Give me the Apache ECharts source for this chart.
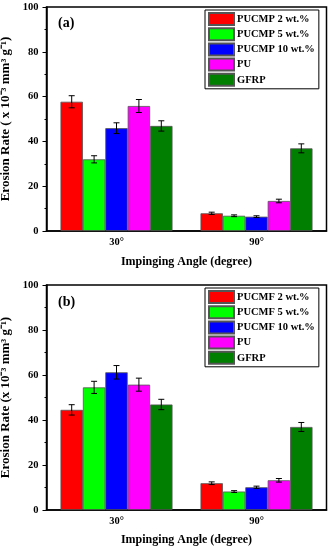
<!DOCTYPE html>
<html>
<head>
<meta charset="utf-8">
<script src="https://cdn.jsdelivr.net/npm/echarts@6/dist/echarts.min.js"></script>
<style>html,body{margin:0;padding:0;background:#fff;}#c{width:332px;height:550px;}</style>
</head>
<body>
<div id="c"></div>
<script>
var categories = ['30°', '90°'];
var namesA = ['PUCMP 2 wt.%', 'PUCMP 5 wt.%', 'PUCMP 10 wt.%', 'PU', 'GFRP'];
var namesB = ['PUCMF 2 wt.%', 'PUCMF 5 wt.%', 'PUCMF 10 wt.%', 'PU', 'GFRP'];
var colors = ['#ff0000', '#00ff00', '#0000ff', '#ff00ff', '#007f00'];
var valuesA = [[57.7, 7.9], [32.0, 6.8], [45.9, 6.4], [55.8, 13.4], [46.9, 36.9]];
var errorsA = [[2.7, 0.5], [1.6, 0.4], [2.4, 0.4], [2.9, 0.8], [2.3, 2.0]];
var valuesB = [[44.5, 11.9], [54.5, 8.2], [61.2, 10.1], [55.7, 13.2], [46.9, 36.9]];
var errorsB = [[2.3, 0.6], [2.7, 0.4], [3.0, 0.5], [2.9, 0.8], [2.3, 2.0]];
var yTicks = [0, 20, 40, 60, 80, 100];

var FONT = '"Liberation Serif", "Times New Roman", serif';
var chart = echarts.init(document.getElementById('c'), null, {renderer: 'canvas'});

function errItems(values, errors) {
  var d = [];
  for (var s = 0; s < values.length; s++)
    for (var c = 0; c < values[s].length; c++)
      d.push([c, s, values[s][c], errors[s][c]]);
  return d;
}

function renderErr(params, api) {
  var c = api.value(0), s = api.value(1), v = api.value(2), e = api.value(3);
  var band = api.size([1, 0])[0];
  var barW = band * 0.8 / 5;
  var center = api.coord([c, v]);
  var x = center[0] - band * 0.4 + barW * (s + 0.5);
  var top = api.coord([c, v + e])[1];
  var bot = api.coord([c, v - e])[1];
  var cap = 3;
  var st = {stroke: '#000', lineWidth: 1};
  return {
    type: 'group',
    children: [
      {type: 'line', shape: {x1: x, y1: top, x2: x, y2: bot}, style: st},
      {type: 'line', shape: {x1: x - cap, y1: top, x2: x + cap, y2: top}, style: st},
      {type: 'line', shape: {x1: x - cap, y1: bot, x2: x + cap, y2: bot}, style: st}
    ]
  };
}

var grids = [
  {left: 46.5, right: 5.5, top: 7, height: 224, show: true, borderColor: '#000', borderWidth: 1.5, backgroundColor: 'transparent', outerBoundsMode: 'none', containLabel: false},
  {left: 46.5, right: 5.5, top: 285, height: 225, show: true, borderColor: '#000', borderWidth: 1.5, backgroundColor: 'transparent', outerBoundsMode: 'none', containLabel: false}
];

function xAx(i) {
  return {
    type: 'category', gridIndex: i, data: categories,
    boundaryGap: true,
    axisLine: {lineStyle: {color: '#000', width: 1.5}},
    axisTick: {alignWithLabel: true, length: 3, lineStyle: {color: '#000'}},
    axisLabel: {color: '#000', fontFamily: FONT, fontWeight: 'bold', fontSize: 10.5, margin: 6},
    name: 'Impinging Angle (degree)', nameLocation: 'middle', nameGap: i === 0 ? 25 : 24,
    nameTextStyle: {color: '#000', fontFamily: FONT, fontWeight: 'bold', fontSize: 12}
  };
}
function yAx(i) {
  return {
    type: 'value', gridIndex: i, min: yTicks[0], max: yTicks[yTicks.length - 1], interval: 20,
    axisLine: {show: true, lineStyle: {color: '#000', width: 1.5}},
    axisTick: {show: true, length: 4, lineStyle: {color: '#000'}},
    minorTick: {show: true, splitNumber: 2, length: 2, lineStyle: {color: '#000'}},
    splitLine: {show: false},
    axisLabel: {color: '#000', fontFamily: FONT, fontWeight: 'bold', fontSize: 10.5, margin: 8},
    name: i === 0 ? 'Erosion Rate ( x 10⁻³ mm³ g⁻¹)' : 'Erosion Rate (x 10⁻³ mm³ g⁻¹)',
    nameLocation: 'middle', nameRotate: 90, nameGap: 27,
    nameTextStyle: {color: '#000', fontFamily: FONT, fontWeight: 'bold', fontSize: 13}
  };
}

var series = [];
function addPanel(names, values, errors, gi) {
  for (var s = 0; s < names.length; s++) {
    series.push({
      type: 'bar', name: names[s], xAxisIndex: gi, yAxisIndex: gi,
      data: values[s], barGap: '0%', barCategoryGap: '20%',
      itemStyle: {color: colors[s], borderColor: '#555', borderWidth: 0.8},
      emphasis: {disabled: true}, animation: false
    });
  }
  series.push({
    type: 'custom', xAxisIndex: gi, yAxisIndex: gi,
    data: errItems(values, errors), encode: {x: 0, y: 2},
    renderItem: renderErr, z: 10, animation: false, silent: true
  });
}
addPanel(namesA, valuesA, errorsA, 0);
addPanel(namesB, valuesB, errorsB, 1);

function legend(names, top) {
  return {
    data: names, orient: 'vertical', left: 205, top: top,
    itemWidth: 25, itemHeight: 12, itemGap: 1.2,
    padding: [2, 4, 2, 3], borderColor: '#000', borderWidth: 1,
    textStyle: {color: '#000', fontFamily: FONT, fontWeight: 'bold', fontSize: 10.5, padding: [0, 0, 0, -2]},
    selectedMode: false,
    icon: 'rect'
  };
}

chart.setOption({
  animation: false,
  backgroundColor: '#fff',
  grid: grids,
  xAxis: [xAx(0), xAx(1)],
  yAxis: [yAx(0), yAx(1)],
  legend: [legend(namesA, 10), legend(namesB, 288)],
  title: [
    {text: '(a)', left: 58, top: 16, padding: 0, textStyle: {color: '#000', fontFamily: FONT, fontWeight: 'bold', fontSize: 14}},
    {text: '(b)', left: 58, top: 295, padding: 0, textStyle: {color: '#000', fontFamily: FONT, fontWeight: 'bold', fontSize: 14}}
  ],
  series: series
});
</script>
</body>
</html>
